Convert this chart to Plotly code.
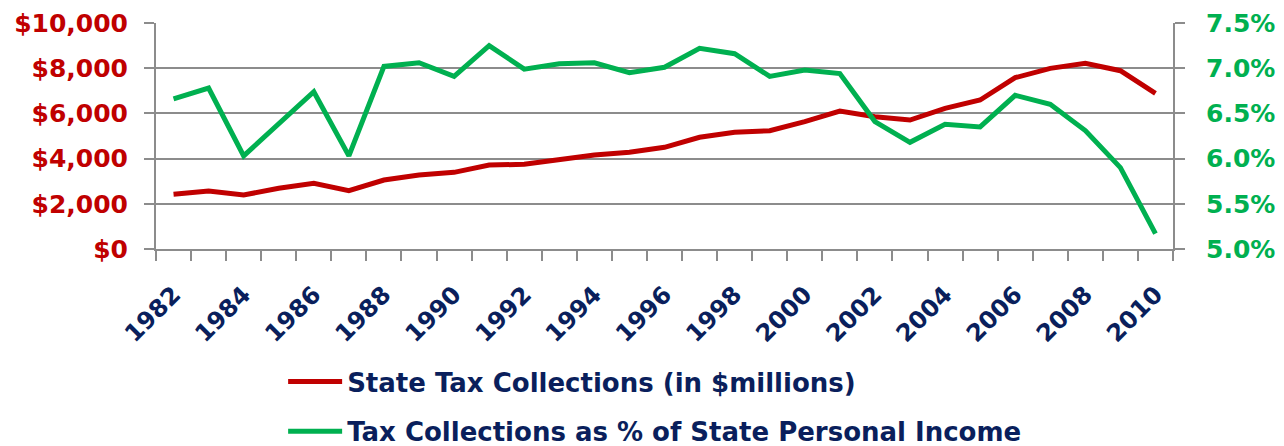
import plotly.graph_objects as go

years = list(range(1982, 2011))
tax_collections = [2420, 2566, 2390, 2685, 2907, 2580, 3053, 3274, 3392, 3717,
                   3746, 3968, 4159, 4278, 4500, 4942, 5163, 5235, 5633, 6106,
                   5855, 5708, 6224, 6593, 7580, 7994, 8215, 7890, 6889]
pct_income = [6.66, 6.78, 6.03, 6.39, 6.74, 6.03, 7.02, 7.06, 6.91, 7.25,
              6.99, 7.05, 7.06, 6.95, 7.01, 7.22, 7.16, 6.91, 6.98, 6.94,
              6.41, 6.18, 6.38, 6.35, 6.70, 6.60, 6.31, 5.90, 5.17]
tick_years = years[::2]
tick_labels = [str(y) for y in tick_years]

RED = "#c00000"
GREEN = "#00b050"
NAVY = "#0a1f5c"
GREY = "#8c8c8c"
FONT = "DejaVu Sans, Verdana, sans-serif"

fig = go.Figure()
fig.add_trace(go.Scatter(x=years, y=tax_collections, mode="lines",
                         name="State Tax Collections (in $millions)",
                         line=dict(color=RED, width=5), legendgroup="a"))
fig.add_trace(go.Scatter(x=years, y=pct_income, mode="lines",
                         name="Tax Collections as % of State Personal Income",
                         line=dict(color=GREEN, width=5), yaxis="y2", legendgroup="b"))

fig.update_layout(
    width=1276, height=438,
    margin=dict(l=148, r=111, t=15, b=197, autoexpand=False),
    paper_bgcolor="white", plot_bgcolor="white",
    showlegend=True,
    legend=dict(orientation="v", xref="paper", yref="container",
                x=0.125, y=1 - 350 / 438, xanchor="left", yanchor="top",
                font=dict(family=FONT, size=26, color=NAVY, weight="bold"),
                itemwidth=54, tracegroupgap=13, bgcolor="rgba(0,0,0,0)"),
    xaxis=dict(range=[1981.5, 2010.5], tickmode="array", tickvals=tick_years,
               ticktext=tick_labels, ticks="", tickangle=-45,
               tickfont=dict(family=FONT, size=24, color=NAVY, weight="bold"),
               showgrid=False, zeroline=False, showline=True,
               linecolor=GREY, linewidth=2, automargin=False,
               ticklabelstandoff=20,
               minor=dict(tickmode="linear", tick0=1981.5, dtick=1, ticks="outside",
                          ticklen=10, tickwidth=2, tickcolor=GREY, showgrid=False)),
    yaxis=dict(range=[0, 10000], dtick=2000, tickprefix="$", tickformat=",d",
               tickfont=dict(family=FONT, size=25, color=RED, weight="bold"),
               showgrid=True, gridcolor=GREY, gridwidth=2, zeroline=False,
               showline=True, linecolor=GREY, linewidth=2, automargin=False,
               ticks="outside", ticklen=10, tickwidth=2, tickcolor=GREY,
               ticklabelstandoff=11),
    yaxis2=dict(range=[5, 7.5], dtick=0.5, tickformat=".1f", ticksuffix="%",
                overlaying="y", side="right",
                tickfont=dict(family=FONT, size=25, color=GREEN, weight="bold"),
                showgrid=False, zeroline=False, showline=True,
                linecolor=GREY, linewidth=2, automargin=False,
                ticks="outside", ticklen=10, tickwidth=2, tickcolor=GREY,
                ticklabelstandoff=16),
)

fig.write_html("out.html")
